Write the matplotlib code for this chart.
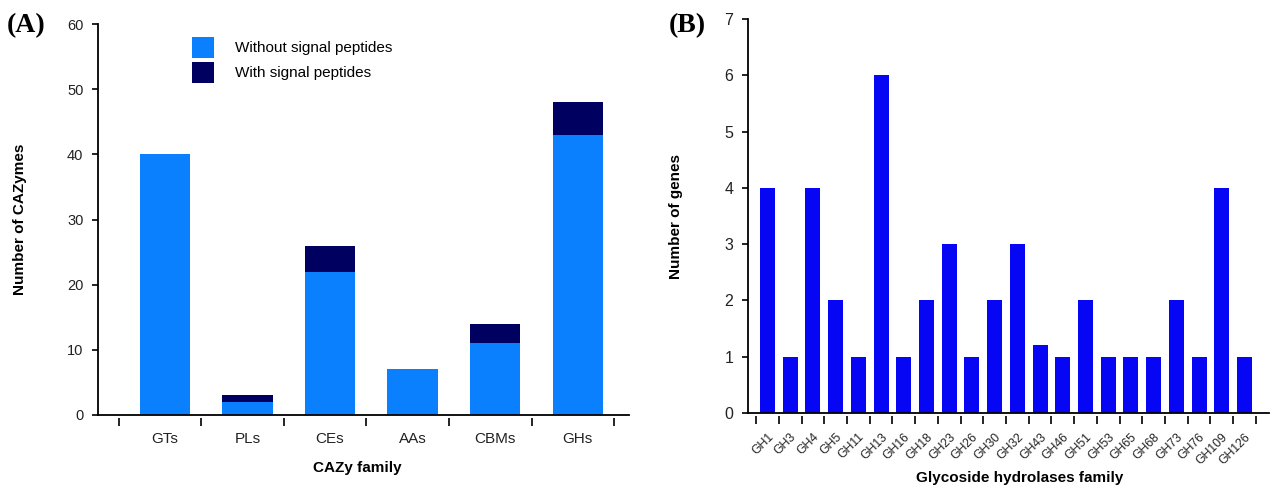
import matplotlib
matplotlib.use("Agg")
import matplotlib.pyplot as plt
import numpy as np

# ---- data ----
cazy_families = ["GTs", "PLs", "CEs", "AAs", "CBMs", "GHs"]
without_sp = [40, 2, 22, 7, 11, 43]
with_sp = [0, 1, 4, 0, 3, 5]

gh_families = ["GH1", "GH3", "GH4", "GH5", "GH11", "GH13", "GH16", "GH18", "GH23",
               "GH26", "GH30", "GH32", "GH43", "GH46", "GH51", "GH53", "GH65",
               "GH68", "GH73", "GH76", "GH109", "GH126"]
gh_counts = [4, 1, 4, 2, 1, 6, 1, 2, 3, 1, 2, 3, 1.2, 1, 2, 1, 1, 1, 2, 1, 4, 1]

plt.rcParams['font.family'] = ['Liberation Sans', 'DejaVu Sans']
serif = ['Liberation Serif', 'DejaVu Serif']

fig = plt.figure(figsize=(12.76, 4.88), dpi=100)


def gap_ticks(ax, positions, axis_h_px):
    sec = ax.secondary_xaxis(-3.0 / axis_h_px)
    sec.set_xticks(positions)
    sec.set_xticklabels([''] * len(positions))
    sec.tick_params(length=5.5, width=1.2, direction='out')
    sec.spines['bottom'].set_visible(False)
    return sec


# ---- Panel A ----
hA = 415 - 24
wA = 629 - 98
axA = fig.add_axes([98/1276, 1-415/488, wA/1276, hA/488])
x = np.arange(len(cazy_families))
light = '#0a80ff'
dark = '#000060'
axA.bar(x, without_sp, width=0.61, color=light, label='Without signal peptides')
axA.bar(x, with_sp, width=0.61, bottom=without_sp, color=dark, label='With signal peptides')
axA.set_xlim(-0.81, 5.62)
axA.set_ylim(0, 60)
axA.set_yticks(range(0, 61, 10))
axA.set_xticks(x)
axA.set_xticklabels(cazy_families, fontsize=11, color='#222222')
axA.tick_params(axis='x', length=0, pad=12)
gap_ticks(axA, np.arange(len(cazy_families) + 1) - 0.56, hA)
axA.tick_params(axis='y', length=4.5, width=1.2, pad=6, labelsize=10.5, labelcolor='#222222')
for s in ['top', 'right']:
    axA.spines[s].set_visible(False)
for s in ['left', 'bottom']:
    axA.spines[s].set_linewidth(1.3)
axA.set_ylabel('Number of CAZymes', fontsize=11, fontweight='bold', va='center')
axA.yaxis.set_label_coords((20 - 98) / wA, 0.5)
axA.set_xlabel('CAZy family', fontsize=11, fontweight='bold', va='center')
axA.xaxis.set_label_coords((357 - 98) / wA, (415 - 468) / hA)
axA.legend(loc='upper left', bbox_to_anchor=(0.177, 0.967), frameon=False,
           fontsize=11, handlelength=1.44, handleheight=1.73, labelspacing=0.26,
           handletextpad=1.37, borderpad=0, borderaxespad=0)
fig.text(7/1276, 1-26/488, '(A)', fontsize=20, fontweight='bold',
         family=serif, va='center', ha='left')

# ---- Panel B ----
hB = 413 - 19
wB = 1269 - 748
axB = fig.add_axes([748/1276, 1-413/488, wB/1276, hB/488])
xb = np.arange(len(gh_families))
axB.bar(xb, gh_counts, width=0.66, color='#0606f5')
axB.set_xlim(-0.86, 22.08)
axB.set_ylim(0, 7)
axB.set_yticks(range(0, 8))
axB.set_xticks(xb)
axB.set_xticklabels(gh_families, rotation=45, ha='right', rotation_mode='anchor',
                    fontsize=8.8, color='#222222')
axB.tick_params(axis='x', length=0, pad=13)
gap_ticks(axB, np.arange(len(gh_families) + 1) - 0.5, hB)
axB.tick_params(axis='y', length=4.5, width=1.2, pad=6, labelsize=11.5, labelcolor='#222222')
for s in ['top', 'right']:
    axB.spines[s].set_visible(False)
for s in ['left', 'bottom']:
    axB.spines[s].set_linewidth(1.3)
axB.set_ylabel('Number of genes', fontsize=11, fontweight='bold', va='center')
axB.yaxis.set_label_coords((676 - 748) / wB, 0.5)
axB.set_xlabel('Glycoside hydrolases family', fontsize=11, fontweight='bold', va='center')
axB.xaxis.set_label_coords((1020 - 748) / wB, (413 - 478) / hB)
fig.text(669/1276, 1-26/488, '(B)', fontsize=20, fontweight='bold',
         family=serif, va='center', ha='left')

fig.savefig('out.png', dpi=100)
